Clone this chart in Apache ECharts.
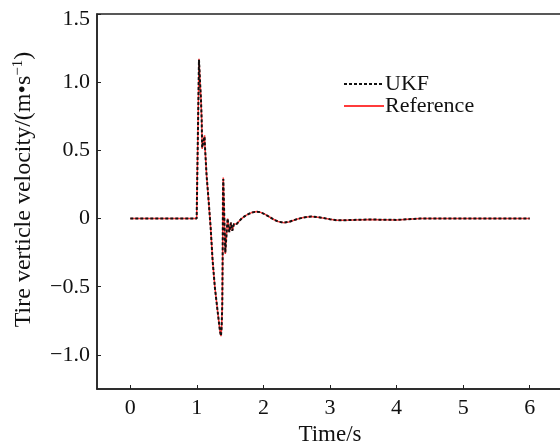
<!DOCTYPE html>
<html>
<head>
<meta charset="utf-8">
<script src="https://cdn.jsdelivr.net/npm/echarts@6/dist/echarts.min.js"></script>
<style>html,body{margin:0;padding:0;background:#fff}#c{width:560px;height:446px}</style>
</head>
<body>
<div id="c"></div>
<script>
const time = [0, 0.997, 1.032, 1.048, 1.062, 1.072, 1.08, 1.095, 1.116, 1.121, 1.147, 1.171, 1.207, 1.237, 1.271, 1.312, 1.347, 1.362, 1.372, 1.382, 1.387, 1.392, 1.397, 1.41, 1.427, 1.462, 1.487, 1.512, 1.532, 1.557, 1.575, 1.597, 1.62, 1.672, 1.72, 1.772, 1.83, 1.897, 1.95, 2.02, 2.08, 2.147, 2.22, 2.30, 2.38, 2.5, 2.6, 2.72, 2.85, 3.0, 3.1, 3.2, 3.35, 3.6, 4.0, 4.35, 5.0, 6.0];
const reference = [0, 0, 1.171, 1.0, 0.877, 0.73, 0.51, 0.56, 0.61, 0.535, 0.31, 0.166, -0.066, -0.31, -0.507, -0.68, -0.826, -0.863, -0.80, -0.63, -0.31, 0.18, 0.30, 0.05, -0.26, 0.0, -0.10, -0.03, -0.09, -0.04, -0.054, -0.04, -0.03, 0.0, 0.018, 0.032, 0.045, 0.051, 0.047, 0.032, 0.015, -0.005, -0.022, -0.03, -0.025, -0.005, 0.008, 0.015, 0.008, -0.005, -0.012, -0.013, -0.01, -0.007, -0.01, 0, 0, 0];
const ukf = [0, 0, 1.165, 1.0, 0.87, 0.73, 0.52, 0.56, 0.60, 0.535, 0.31, 0.166, -0.066, -0.31, -0.507, -0.68, -0.826, -0.86, -0.80, -0.63, -0.31, 0.18, 0.29, 0.05, -0.25, 0.0, -0.10, -0.03, -0.09, -0.04, -0.054, -0.04, -0.03, 0.0, 0.018, 0.032, 0.045, 0.051, 0.047, 0.032, 0.015, -0.005, -0.022, -0.03, -0.025, -0.005, 0.008, 0.015, 0.008, -0.005, -0.012, -0.013, -0.01, -0.007, -0.01, 0, 0, 0];
const xTicks = [0, 1, 2, 3, 4, 5, 6];
const yTicks = [-1, -0.5, 0, 0.5, 1, 1.5];
const seriesNames = ['UKF', 'Reference'];

const font = '"Liberation Serif", "Times New Roman", serif';
const chart = echarts.init(document.getElementById('c'));
const pair = arr => time.map((t, i) => [t, arr[i]]);
const axisCol = '#222';
const fmtY = v => v === 0 ? '0' : (v < 0 ? '−' : '') + Math.abs(v).toFixed(1);
chart.setOption({
  animation: false,
  grid: {left: 97, right: -3, top: 14, bottom: 57, show: true, borderColor: axisCol, borderWidth: 1.5,
    containLabel: false, outerBoundsMode: 'none'},
  legend: {
    orient: 'vertical', left: 343, top: 73, padding: 0, itemWidth: 40, itemHeight: 14, itemGap: -3,
    itemStyle: {opacity: 0},
    textStyle: {fontFamily: font, fontSize: 22, color: '#111', lineHeight: 16, padding: [0, 0, 0, -4]},
    data: [
      {name: seriesNames[0]},
      {name: seriesNames[1], textStyle: {padding: [12, 0, 0, -4]}}
    ]
  },
  xAxis: {
    type: 'value', min: -0.5, max: 6.5, interval: 0.5,
    name: 'Time/s', nameLocation: 'middle', nameGap: 32,
    nameTextStyle: {fontFamily: font, fontSize: 23, color: '#111'},
    axisLine: {onZero: false, lineStyle: {color: axisCol, width: 1.5}},
    axisTick: {inside: true, length: 4, customValues: xTicks, lineStyle: {color: axisCol}},
    axisLabel: {customValues: xTicks, fontFamily: font, fontSize: 22, color: '#111', margin: 8},
    splitLine: {show: false}
  },
  yAxis: {
    type: 'value', min: -1.25, max: 1.5, interval: 0.25,
    name: 'Tire verticle velocity/(m•s{sup|−1})', nameLocation: 'middle', nameGap: 61,
    nameTextStyle: {fontFamily: font, fontSize: 24, color: '#111', padding: [0, 0, 0, 24],
      rich: {sup: {fontFamily: font, fontSize: 15, color: '#111', verticalAlign: 'top', padding: [0, 0, 10, 0]}}},
    axisLine: {onZero: false, lineStyle: {color: axisCol, width: 1.5}},
    axisTick: {inside: true, length: 4, customValues: yTicks, lineStyle: {color: axisCol}},
    axisLabel: {customValues: yTicks, fontFamily: font, fontSize: 22, color: '#111', margin: 7,
      formatter: v => v === 1.5 ? '{t|' + fmtY(v) + '}' : fmtY(v),
      rich: {t: {fontFamily: font, fontSize: 22, color: '#111', padding: [11, 0, 0, 0]}}},
    splitLine: {show: false}
  },
  series: [
    {name: seriesNames[1], type: 'line', data: pair(reference), symbol: 'none', z: 2,
      lineStyle: {color: '#ff3b3b', width: 1.5}, itemStyle: {color: '#ff3b3b'}},
    {name: seriesNames[0], type: 'line', data: pair(ukf), symbol: 'none', z: 3,
      lineStyle: {color: '#111', width: 2, type: [3, 2]}, itemStyle: {color: '#111'}}
  ]
});
</script>
</body>
</html>
